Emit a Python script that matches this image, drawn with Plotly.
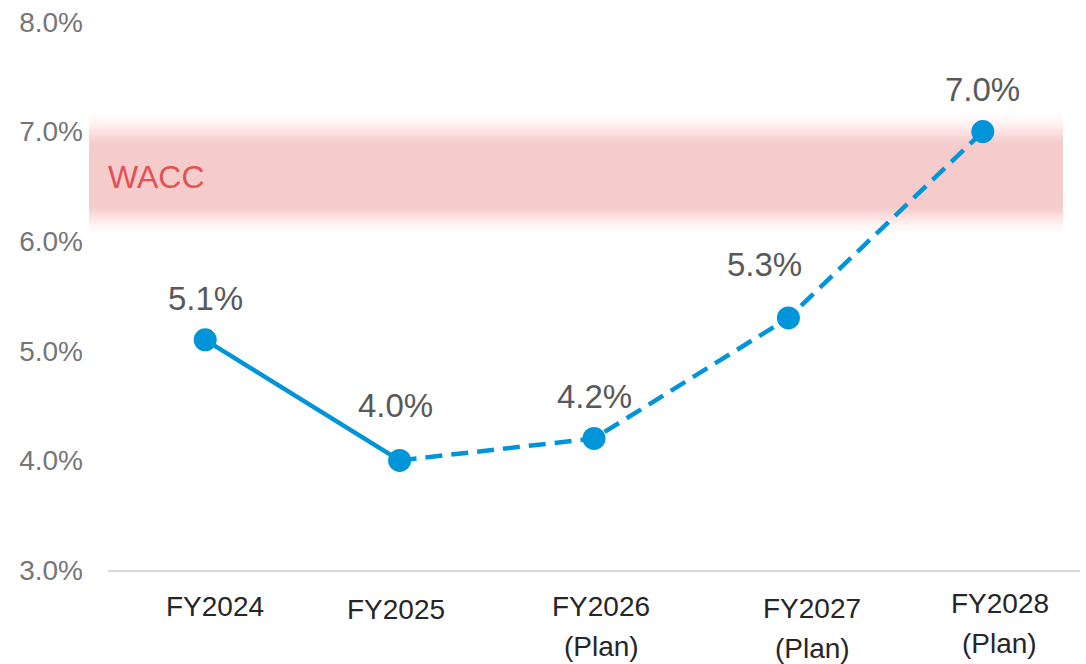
import plotly.graph_objects as go

categories = ["FY2024", "FY2025", "FY2026", "FY2027", "FY2028"]
label_line1 = ["FY2024", "FY2025", "FY2026", "FY2027", "FY2028"]
label_line2 = ["", "", "(Plan)", "(Plan)", "(Plan)"]
roic = [5.1, 4.0, 4.2, 5.3, 7.0]
actual_idx = [0, 1]
plan_idx = [1, 2, 3, 4]
wacc_low, wacc_high = 6.32, 6.88
y_ticks = [3.0, 4.0, 5.0, 6.0, 7.0, 8.0]

BLUE = "#0095d9"
FONT = "Liberation Sans, Arial, sans-serif"

fig = go.Figure()

# WACC gradient band (nested translucent layers -> smooth fade without seams)
band_rgb = (246, 203, 203)
fade_top, fade_bot = 0.32, 0.27
bx0, bx1 = -0.0195, 0.9825
fig.add_shape(type="rect", xref="paper", yref="y", x0=bx0, x1=bx1,
              y0=wacc_low, y1=wacc_high, fillcolor="rgb(%d,%d,%d)" % band_rgb,
              line_width=0, layer="below")
N = 40
def target(t):  # t in (0,1]: 0 at band edge, 1 at outer edge
    return (1 - t) ** 1.6
prev = 0.0
for j in range(N, 0, -1):  # outermost first
    t_inner = (j - 1) / N
    T = target(t_inner + 0.5 / N)
    a = 1 - (1 - T) / (1 - prev) if prev < 1 else 0
    a = max(0.0, min(1.0, a))
    prev = T
    fig.add_shape(type="rect", xref="paper", yref="y", x0=bx0, x1=bx1,
                  y0=wacc_high, y1=wacc_high + fade_top * j / N,
                  fillcolor="rgba(%d,%d,%d,%.4f)" % (*band_rgb, a), line_width=0, layer="below")
    fig.add_shape(type="rect", xref="paper", yref="y", x0=bx0, x1=bx1,
                  y0=wacc_low - fade_bot * j / N, y1=wacc_low,
                  fillcolor="rgba(%d,%d,%d,%.4f)" % (*band_rgb, a), line_width=0, layer="below")

fig.add_annotation(x=0.0, xref="paper", xanchor="left", xshift=-2, y=(wacc_low + wacc_high) / 2,
                   yref="y", yshift=-2, text="WACC", showarrow=False,
                   font=dict(family=FONT, size=32, color="#e25252"))

# Actual (solid)
fig.add_trace(go.Scatter(
    x=[categories[i] for i in actual_idx], y=[roic[i] for i in actual_idx],
    mode="lines", line=dict(color=BLUE, width=4.5), hoverinfo="skip", showlegend=False))
# Plan (dashed)
fig.add_trace(go.Scatter(
    x=[categories[i] for i in plan_idx], y=[roic[i] for i in plan_idx],
    mode="lines", line=dict(color=BLUE, width=4.5, dash="17px,9px"), hoverinfo="skip",
    showlegend=False))
# Markers
fig.add_trace(go.Scatter(
    x=categories, y=roic, mode="markers",
    marker=dict(color=BLUE, size=23), showlegend=False))

# value labels (placement as in the original)
val_dy = [41, 55, 42, 53, 42]
val_dx = [0, -4, 0, -24, 0]
for c, v, dy, dx in zip(categories, roic, val_dy, val_dx):
    fig.add_annotation(x=c, y=v, text="%.1f%%" % v, showarrow=False, yshift=dy, xshift=dx,
                       font=dict(family=FONT, size=33, color="#595959"))

# category labels (slightly staggered as in the original)
line1_drop = [36, 39, 36, 38, 33]
label_dx = [10, -4, 7, 24, 17]
for c, t1, t2, d, dx in zip(categories, label_line1, label_line2, line1_drop, label_dx):
    fig.add_annotation(x=c, y=0, yref="paper", yanchor="middle", text=t1, showarrow=False,
                       yshift=-d, xshift=dx, font=dict(family=FONT, size=28, color="#262626"))
    if t2:
        fig.add_annotation(x=c, y=0, yref="paper", yanchor="middle", text=t2, showarrow=False,
                           yshift=-(d + 40), xshift=dx,
                           font=dict(family=FONT, size=28, color="#262626"))

fig.update_layout(
    width=1086, height=664,
    margin=dict(l=108, r=6, t=22, b=94),
    plot_bgcolor="white", paper_bgcolor="white",
    xaxis=dict(type="category", categoryorder="array", categoryarray=categories,
               range=[-0.5, 4.5], showticklabels=False, showgrid=False, zeroline=False,
               showline=True, linecolor="#d9d9d9", linewidth=1.5, ticks=""),
    yaxis=dict(range=[3.0, 8.0], tickvals=y_ticks,
               ticktext=["%.1f%%" % t for t in y_ticks], showgrid=False, zeroline=False,
               showline=False, ticks="", ticklabelstandoff=24,
               tickfont=dict(family=FONT, size=28, color="#767676")),
)

fig.write_html("out.html")
